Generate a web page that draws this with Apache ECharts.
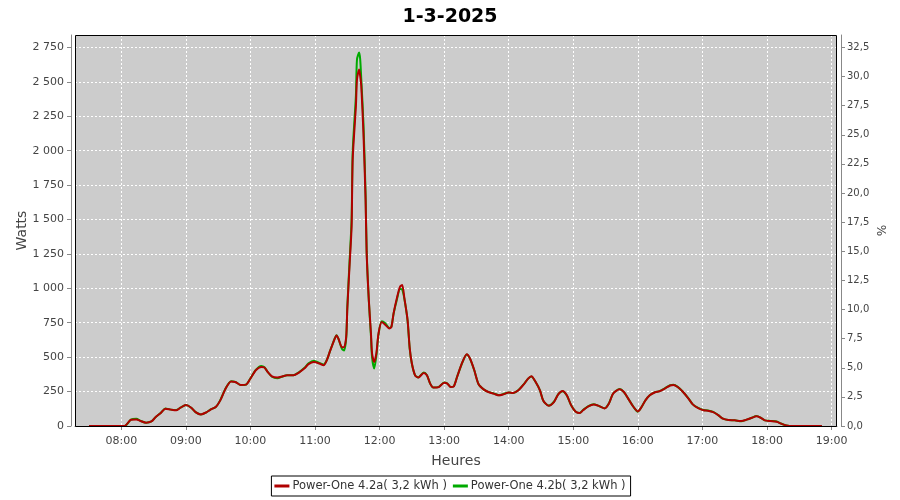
<!DOCTYPE html>
<html>
<head>
<meta charset="utf-8">
<script src="https://cdn.jsdelivr.net/npm/echarts@6/dist/echarts.min.js"></script>
<style>
html,body{margin:0;padding:0;background:#fff;}
#chart{width:900px;height:500px;}
</style>
</head>
<body>
<div id="chart"></div>
<script>
const title = '1-3-2025';
const seriesNames = ['Power-One 4.2a( 3,2 kWh )', 'Power-One 4.2b( 3,2 kWh )'];
const times = ['07:30','07:55','08:03','08:09','08:14','08:18','08:23','08:28','08:32','08:37','08:41','08:46','08:51','08:55','09:00','09:05','09:09','09:14','09:19','09:23','09:28','09:32','09:37','09:42','09:46','09:51','09:56','10:00','10:05','10:10','10:13','10:16','10:20','10:25','10:30','10:34','10:40','10:45','10:50','10:54','10:59','11:04','11:08','11:11','11:14','11:18','11:20','11:22','11:25','11:27','11:29','11:30','11:32','11:34','11:35','11:38','11:39','11:41','11:42','11:43','11:45','11:47','11:48','11:50','11:52','11:53','11:55','11:57','11:59','12:02','12:05','12:09','12:11','12:13','12:16','12:19','12:21','12:23','12:26','12:28','12:30','12:33','12:36','12:41','12:44','12:47','12:50','12:55','13:00','13:03','13:06','13:09','13:12','13:17','13:21','13:24','13:28','13:32','13:37','13:41','13:46','13:51','13:55','14:00','14:04','14:09','14:14','14:18','14:21','14:25','14:29','14:32','14:37','14:42','14:46','14:50','14:54','14:58','15:02','15:06','15:09','15:14','15:19','15:23','15:29','15:33','15:37','15:43','15:47','15:51','15:56','16:00','16:03','16:07','16:11','16:16','16:20','16:25','16:30','16:33','16:37','16:42','16:47','16:51','16:56','17:01','17:05','17:10','17:15','17:19','17:24','17:30','17:36','17:41','17:46','17:50','17:54','17:58','18:03','18:09','18:13','18:18','18:24','18:51'];
const powerA = [0,0,0,46,48,36,24,33,65,97,126,119,114,133,152,133,101,84,99,119,140,186,272,323,320,298,301,345,405,429,425,393,361,352,361,368,368,388,417,449,465,454,441,478,545,628,658,630,572,572,650,850,1150,1449,1934,2323,2517,2590,2541,2468,2129,1643,1255,915,672,527,465,527,672,755,738,709,720,818,927,1012,1024,930,770,565,454,368,352,385,368,308,279,283,315,308,283,288,356,465,521,490,405,303,264,247,235,223,230,243,240,259,303,344,361,320,259,186,147,174,230,254,223,150,106,94,114,143,157,148,128,162,235,267,247,199,138,106,133,186,223,245,252,272,294,298,283,247,199,157,130,114,111,101,77,53,43,41,36,46,60,70,60,41,36,31,17,4,0,0];
const powerB = [0,0,0,46,52,37,24,33,65,98,127,119,116,133,152,133,101,84,99,120,140,188,274,325,320,297,301,346,407,436,427,393,358,347,360,368,369,390,421,455,474,458,446,480,545,630,660,628,560,548,640,860,1180,1500,1990,2400,2662,2712,2662,2517,2200,1680,1270,910,650,500,417,510,665,760,748,712,722,815,915,995,990,925,765,560,452,368,353,388,369,308,279,284,316,309,284,289,357,463,519,489,404,303,264,248,236,224,232,244,240,262,304,344,360,319,258,186,148,176,231,253,222,150,106,95,116,145,158,148,129,163,236,268,246,199,138,104,133,187,224,246,253,274,297,300,284,247,200,157,132,116,113,102,77,53,43,41,34,46,60,72,61,41,37,32,18,4,0,0];
const yTickInterval = 250;
const pctTickInterval = 2.5;

function ts(hm){ const p = hm.split(':').map(Number); return new Date(2025, 2, 1, p[0], p[1]).getTime(); }
const dataA = times.map((t, i) => [ts(t), powerA[i]]);
const dataB = times.map((t, i) => [ts(t), powerB[i]]);
const FONT = 'DejaVu Sans';
const yMax = 2840;
const G = {left: 75, right: 63, top: 35, bottom: 74};

const chart = echarts.init(document.getElementById('chart'), null, {renderer: 'canvas'});
chart.setOption({
  animation: false,
  backgroundColor: '#ffffff',
  title: {
    text: title, left: 'center', top: 3,
    textStyle: {fontFamily: FONT, fontSize: 19, fontWeight: 'bold', color: '#000'}
  },
  legend: {
    data: seriesNames,
    left: 'center', top: 476,
    icon: 'rect', itemWidth: 15, itemHeight: 3, itemGap: 6,
    borderColor: '#000', borderWidth: 1, borderRadius: 0,
    padding: [4, 5, 4, 3],
    backgroundColor: '#fff',
    textStyle: {fontFamily: FONT, fontSize: 11.5, color: '#333', padding: [0, 0, 0, -2]}
  },
  grid: {
    left: G.left, right: G.right, top: G.top, bottom: G.bottom,
    show: true, backgroundColor: '#cccccc', borderWidth: 0,
    containLabel: false
  },
  graphic: [{
    type: 'rect', z: 100, silent: true,
    shape: {x: G.left + 0.5, y: G.top + 0.5, width: 900 - G.left - G.right - 1, height: 500 - G.top - G.bottom},
    style: {fill: 'none', stroke: '#000', lineWidth: 1}
  }],
  xAxis: {
    type: 'time',
    min: ts('07:17'), max: ts('19:05'),
    minInterval: 3600000, maxInterval: 3600000,
    offset: 4,
    name: 'Heures', nameLocation: 'middle', nameGap: 24, nameMoveOverlap: false,
    nameTextStyle: {fontFamily: FONT, fontSize: 14, color: '#444'},
    axisLine: {show: true, lineStyle: {color: '#888', width: 1}},
    axisTick: {show: true, length: 4, lineStyle: {color: '#888'}},
    axisLabel: {
      fontFamily: FONT, fontSize: 11, color: '#444', margin: 6,
      showMinLabel: false, showMaxLabel: false,
      formatter: '{HH}:{mm}'
    },
    splitLine: {show: true, lineStyle: {color: '#ffffff', type: [2, 2], width: 1}}
  },
  yAxis: [{
    type: 'value', min: 0, max: yMax, interval: yTickInterval,
    offset: 4, position: 'left',
    name: 'Watts', nameLocation: 'middle', nameGap: 42, nameMoveOverlap: false,
    nameTextStyle: {fontFamily: FONT, fontSize: 14, color: '#444'},
    axisLine: {show: true, lineStyle: {color: '#888', width: 1}},
    axisTick: {show: true, length: 4, lineStyle: {color: '#888'}},
    axisLabel: {
      fontFamily: FONT, fontSize: 11, color: '#444', margin: 7,
      showMaxLabel: false,
      formatter: v => String(v).replace(/\B(?=(\d{3})+(?!\d))/g, ' ')
    },
    splitLine: {show: true, lineStyle: {color: '#ffffff', type: [2, 2], width: 1}}
  }, {
    type: 'value', min: 0, max: yMax * 32.5 / 2750, interval: pctTickInterval,
    offset: 4, position: 'right',
    name: '%', nameLocation: 'middle', nameGap: 33, nameRotate: -90, nameMoveOverlap: false,
    nameTextStyle: {fontFamily: FONT, fontSize: 12, color: '#444'},
    axisLine: {show: true, lineStyle: {color: '#888', width: 1}},
    axisTick: {show: true, length: 4, lineStyle: {color: '#888'}},
    axisLabel: {
      fontFamily: FONT, fontSize: 10, color: '#444', margin: 6,
      showMaxLabel: false,
      formatter: v => v.toFixed(1).replace('.', ',')
    },
    splitLine: {show: false}
  }],
  series: [{
    name: seriesNames[0], type: 'line', data: dataA, yAxisIndex: 0,
    showSymbol: false, smooth: 0.25, z: 3,
    itemStyle: {color: '#b00000'},
    lineStyle: {color: '#b00000', width: 2}
  }, {
    name: seriesNames[1], type: 'line', data: dataB, yAxisIndex: 0,
    showSymbol: false, smooth: 0.25, z: 2,
    itemStyle: {color: '#00aa00'},
    lineStyle: {color: '#00aa00', width: 2}
  }]
});
</script>
</body>
</html>
